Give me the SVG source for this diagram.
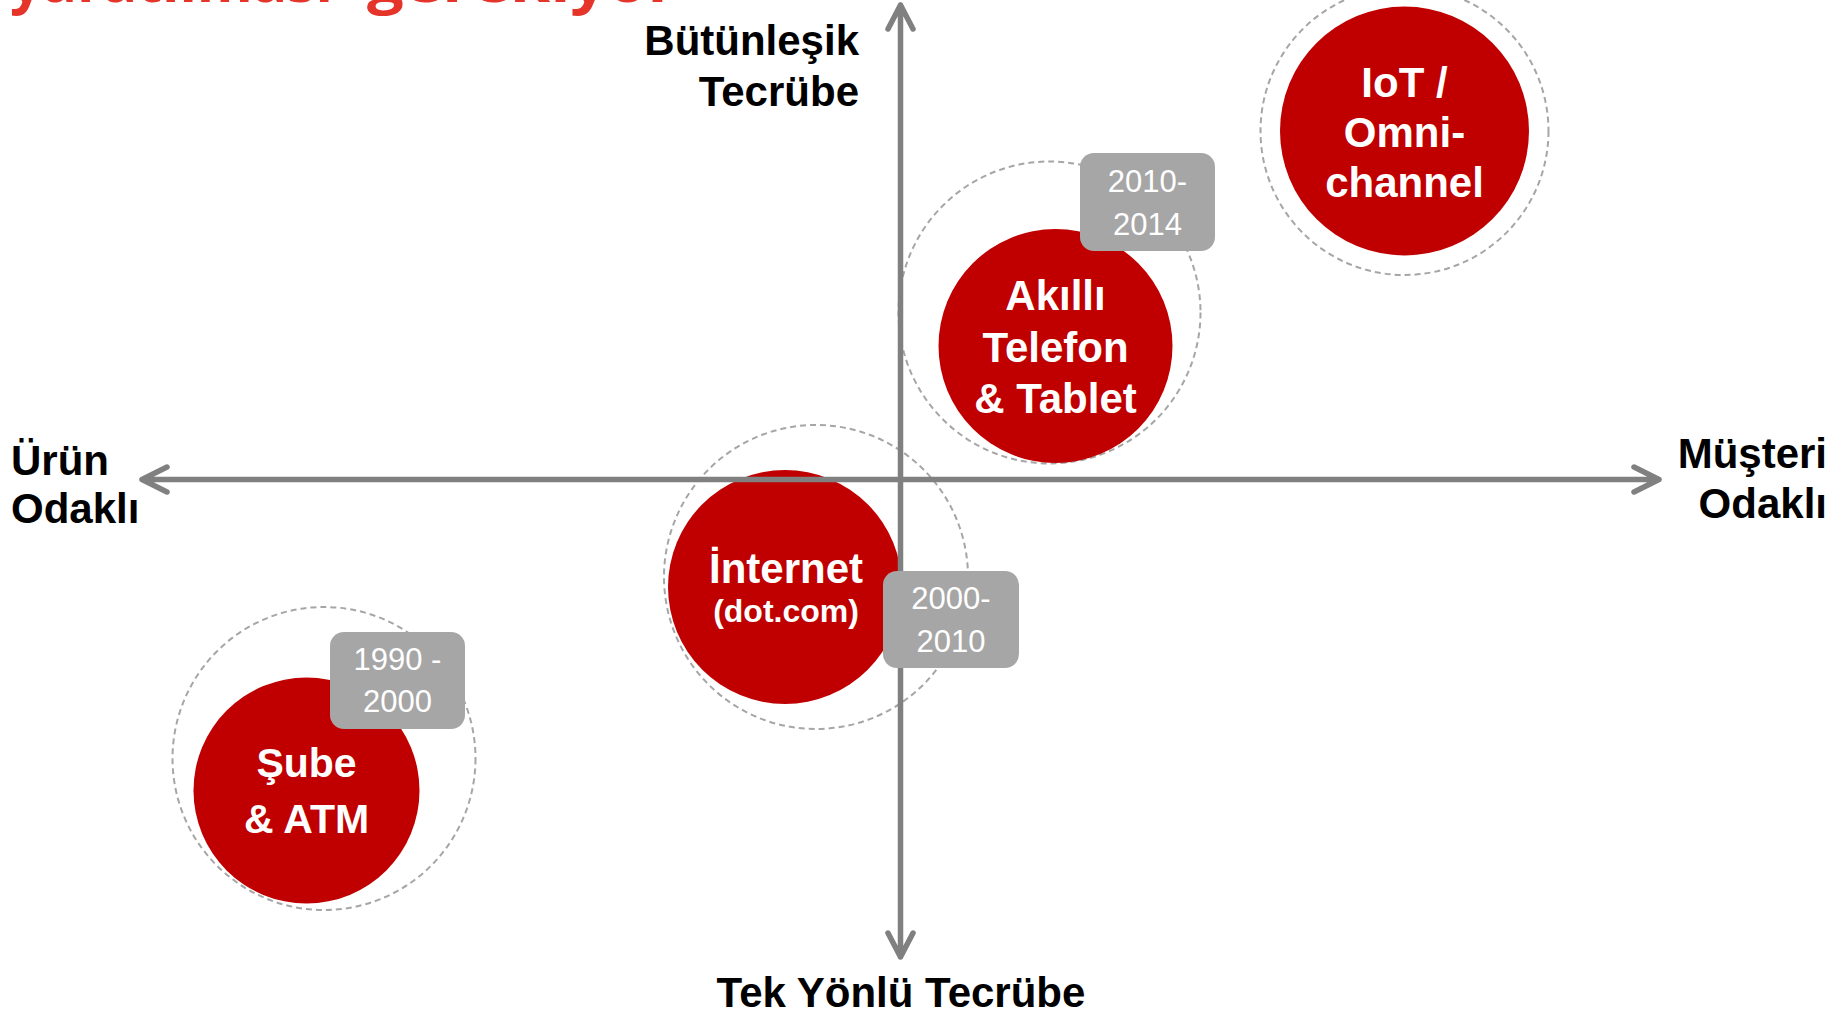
<svg xmlns="http://www.w3.org/2000/svg" width="1843" height="1013" viewBox="0 0 1843 1013">
<defs>
<style>
.title{font-family:"Open Sans","Noto Sans","Liberation Sans",sans-serif;font-weight:700;font-size:58px;fill:#e5352b}
.ax{font-family:"Liberation Sans",Arial,sans-serif;font-weight:700;font-size:42px;fill:#000}
.nt{font-family:"Liberation Sans",Arial,sans-serif;font-weight:700;font-size:42px;fill:#fff;text-anchor:middle}
.yr{font-family:"Liberation Sans",Arial,sans-serif;font-size:31px;fill:#fff;text-anchor:middle}
.halo{fill:none;stroke:#a6a6a6;stroke-width:2;stroke-dasharray:6 4}
.core{fill:#c00000}
.box{fill:#a6a6a6}
.axis{fill:none;stroke:#808080;stroke-width:5.5;stroke-linecap:round;stroke-linejoin:round}
</style>
</defs>
<rect width="1843" height="1013" fill="#fff"/>
<g id="title">
<text class="title" x="10" y="2" textLength="323" lengthAdjust="spacingAndGlyphs">yaratılması</text>
<text class="title" x="367" y="2" textLength="310" lengthAdjust="spacingAndGlyphs">gerekiyor</text>
</g>
<g id="node-iot">
<circle class="halo" cx="1404.5" cy="131" r="144"/>
<circle class="core" cx="1404.5" cy="131" r="124.5"/>
<text class="nt" x="1404.5" y="97">IoT /</text>
<text class="nt" x="1404.5" y="147">Omni-</text>
<text class="nt" x="1404.5" y="197">channel</text>
</g>
<g id="node-akilli">
<circle class="halo" cx="1049.5" cy="312.5" r="151"/>
<circle class="core" cx="1055.5" cy="346" r="117"/>
<text class="nt" x="1055.5" y="310">Akıllı</text>
<text class="nt" x="1055.5" y="361.5">Telefon</text>
<text class="nt" x="1055.5" y="413">&amp; Tablet</text>
</g>
<g id="node-internet">
<circle class="halo" cx="816" cy="577" r="152"/>
<circle class="core" cx="785" cy="587" r="117"/>
<text class="nt" x="786" y="583">İnternet</text>
<text class="nt" x="786" y="621.5" style="font-size:32px">(dot.com)</text>
</g>
<g id="node-sube">
<circle class="halo" cx="324" cy="758.5" r="151.5"/>
<circle class="core" cx="306.5" cy="790.5" r="113"/>
<text class="nt" x="306.5" y="777" style="font-size:41px">Şube</text>
<text class="nt" x="306.5" y="833" style="font-size:41px">&amp; ATM</text>
</g>
<g id="connectors">
<path class="axis" d="M142 479.5H1659M167 467L142 479.5L167 492M1634 467L1659 479.5L1634 492"/>
<path class="axis" d="M900.5 5V957M888 29L900.5 5L913 29M888 933L900.5 957L913 933"/>
</g>
<g id="label-2010">
<rect class="box" x="1080" y="153" width="135" height="98" rx="14"/>
<text class="yr" x="1147.5" y="192">2010-</text>
<text class="yr" x="1147.5" y="235">2014</text>
</g>
<g id="label-2000">
<rect class="box" x="883" y="571" width="136" height="97" rx="14"/>
<text class="yr" x="951" y="609">2000-</text>
<text class="yr" x="951" y="652">2010</text>
</g>
<g id="label-1990">
<rect class="box" x="330" y="632" width="135" height="97" rx="14"/>
<text class="yr" x="397.5" y="670">1990 -</text>
<text class="yr" x="397.5" y="712">2000</text>
</g>
<g id="axis-labels">
<text class="ax" x="859" y="55" text-anchor="end">Bütünleşik</text>
<text class="ax" x="859" y="106" text-anchor="end">Tecrübe</text>
<text class="ax" x="11" y="475">Ürün</text>
<text class="ax" x="11" y="523">Odaklı</text>
<text class="ax" x="1827" y="468" text-anchor="end">Müşteri</text>
<text class="ax" x="1827" y="518" text-anchor="end">Odaklı</text>
<text class="ax" x="901" y="1007" text-anchor="middle">Tek Yönlü Tecrübe</text>
</g>
</svg>
